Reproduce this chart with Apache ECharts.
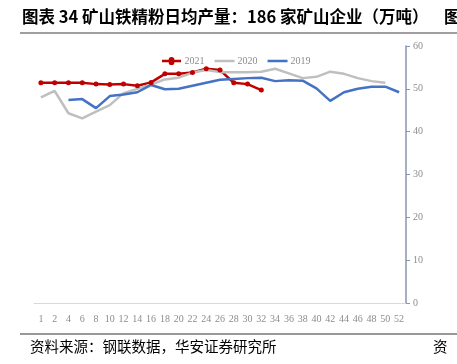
<!DOCTYPE html>
<html><head><meta charset="utf-8">
<script src="https://cdn.jsdelivr.net/npm/echarts@6/dist/echarts.min.js"></script>
<style>html,body{margin:0;padding:0;background:#fff}#c{width:457px;height:364px}</style>
</head><body><div id="c"></div>
<script>
const categories = ['1','2','4','6','8','10','12','14','16','18','20','22','24','26','28','30','32','34','36','38','40','42','44','46','48','50','52'];
const s2021 = [51.4,51.4,51.4,51.4,51.1,51.0,51.1,50.7,51.5,53.5,53.5,53.8,54.7,54.4,51.4,51.1,49.7];
const s2020 = [48.0,49.5,44.3,43.1,44.7,46.2,49.0,50.0,51.0,52.2,52.6,53.8,54.4,53.9,53.9,53.9,54.0,54.7,53.6,52.5,52.8,54.0,53.5,52.5,51.8,51.4];
const s2019 = [null,null,47.4,47.6,45.5,48.3,48.7,49.2,50.9,49.9,50.0,50.7,51.4,52.1,52.3,52.5,52.6,51.8,52.0,51.9,50.1,47.2,49.2,50.0,50.5,50.5,49.2];
const yTicks = {min:0, max:60, interval:10};
const titleText = '图表 34 矿山铁精粉日均产量：186 家矿山企业（万吨）';
const sourceText = '资料来源：钢联数据，华安证券研究所';

const chart = echarts.init(document.getElementById('c'), null, {renderer:'canvas'});
const serif = '"Liberation Serif","Times New Roman",serif';
const lineIcon = 'path://M0,0L0.01,0L0.01,0.01Z M0,2.8L20,2.8L20,5.2L0,5.2Z M19.99,7.99L20,7.99L20,8Z';
chart.setOption({
  animation:false,
  grid:{left:34, right:51, top:46, bottom:61},
  legend:{
    top:51, left:157, itemWidth:20, itemHeight:8, itemGap:10,
    textStyle:{fontFamily:serif, fontSize:10, color:'#8c8c8c', padding:[0,0,0,-2]},
    data:[
      {name:'2021', icon:'path://M0,2.8L7,2.8A3,3 0 1 1 13,2.8L20,2.8L20,5.2L13,5.2A3,3 0 1 1 7,5.2L0,5.2Z'},
      {name:'2020', icon:lineIcon},
      {name:'2019', icon:lineIcon}
    ]
  },
  xAxis:{
    type:'category', data:categories, boundaryGap:true,
    axisLine:{lineStyle:{color:'#d9d9d9', width:1}},
    axisTick:{show:false},
    axisLabel:{interval:0, fontFamily:serif, fontSize:10, color:'#8c8c8c', margin:11}
  },
  yAxis:{
    type:'value', position:'right', min:yTicks.min, max:yTicks.max, interval:yTicks.interval,
    axisLine:{show:true, lineStyle:{color:'#8496b0', width:1.5}},
    axisTick:{show:true, length:4, lineStyle:{color:'#8496b0'}},
    splitLine:{show:false},
    axisLabel:{fontFamily:serif, fontSize:10, color:'#8c8c8c', margin:7}
  },
  series:[
    {name:'2021', type:'line', data:s2021, symbol:'circle', symbolSize:5,
     lineStyle:{color:'#c00000', width:2.5}, itemStyle:{color:'#c00000'}},
    {name:'2020', type:'line', data:s2020, symbol:'none', showSymbol:false,
     lineStyle:{color:'#bfbfbf', width:2.5}, itemStyle:{color:'#bfbfbf'}},
    {name:'2019', type:'line', data:s2019, symbol:'none', showSymbol:false,
     lineStyle:{color:'#4472c4', width:2.5}, itemStyle:{color:'#4472c4'}}
  ],
  graphic:[
    {type:'text', left:22, top:8, style:{text:titleText, font:'bold 16.5px "Noto Sans CJK SC", sans-serif', fill:'#000'}},
    {type:'text', left:444, top:8, style:{text:'图', font:'bold 16.5px "Noto Sans CJK SC", sans-serif', fill:'#000'}},
    {type:'line', shape:{x1:20, y1:33, x2:457, y2:33}, style:{stroke:'#7f7f7f', lineWidth:1.5}},
    {type:'line', shape:{x1:20, y1:334, x2:457, y2:334}, style:{stroke:'#333', lineWidth:1}},
    {type:'text', left:30, top:339, style:{text:sourceText, font:'14.5px "Noto Sans CJK SC", sans-serif', fill:'#000'}},
    {type:'text', left:433, top:339, style:{text:'资', font:'14.5px "Noto Sans CJK SC", sans-serif', fill:'#000'}}
  ]
});
</script></body></html>
